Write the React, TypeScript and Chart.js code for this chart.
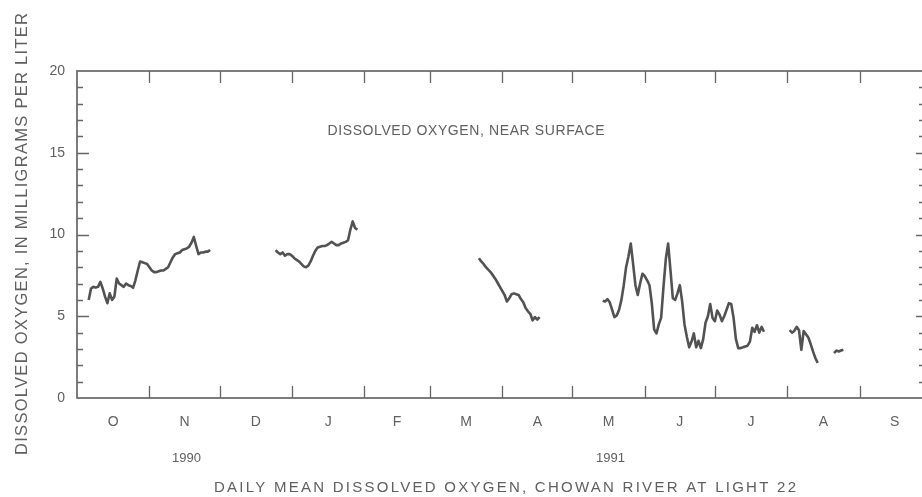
import React, { useEffect, useRef } from "react";
import { Chart, registerables } from "chart.js";

Chart.register(...registerables);

// Days counted from 1 October 1990 (day 0)
const MONTHS = ["O", "N", "D", "J", "F", "M", "A", "M", "J", "J", "A", "S"];
const MONTH_STARTS = [0, 31, 61, 92, 123, 151, 182, 212, 243, 273, 304, 335, 365];
const YEAR_LABELS = ["1990", "1991"];
const YEAR_MONTH_INDEX = [1, 7];
const Y_TICKS = [0, 5, 10, 15, 20];
const X_MAX = 362.5;

const Y_TITLE = "DISSOLVED OXYGEN, IN MILLIGRAMS PER LITER";
const INNER_LABEL = "DISSOLVED OXYGEN, NEAR SURFACE";
const BOTTOM_TITLE = "DAILY MEAN DISSOLVED OXYGEN, CHOWAN RIVER AT LIGHT 22";

const SEG1_START = 5;
const SEG1 = [
  6.0, 6.7, 6.8, 6.75, 6.8, 7.1, 6.7, 6.2, 5.8, 6.4, 6.0, 6.2, 7.3, 7.0, 6.9, 6.8,
  7.0, 6.9, 6.85, 6.75, 7.2, 7.8, 8.35, 8.3, 8.25, 8.2, 8.0, 7.8, 7.7, 7.7, 7.75,
  7.8, 7.8, 7.9, 8.0, 8.3, 8.6, 8.8, 8.85, 8.9, 9.05, 9.1, 9.15, 9.25, 9.5, 9.85,
  9.3, 8.8, 8.9, 8.9, 8.95, 8.95, 9.05,
];

const SEG2_START = 85;
const SEG2 = [
  9.05, 8.9, 8.8, 8.9, 8.7, 8.8, 8.8, 8.7, 8.55, 8.45, 8.35, 8.2, 8.05, 8.0, 8.1,
  8.35, 8.7, 9.0, 9.2, 9.25, 9.3, 9.3, 9.35, 9.45, 9.55, 9.45, 9.35, 9.35, 9.45,
  9.5, 9.55, 9.65, 10.3, 10.8, 10.4, 10.3,
];

const SEG3_START = 172;
const SEG3 = [
  8.55, 8.35, 8.2, 8.0, 7.85, 7.7, 7.5, 7.3, 7.05, 6.8, 6.55, 6.3, 5.9, 6.1, 6.35,
  6.4, 6.35, 6.3, 6.05, 5.85, 5.5, 5.3, 5.15, 4.75, 4.95, 4.8, 4.95,
];

const SEG4_START = 225;
const SEG4 = [
  5.95, 5.9, 6.05, 5.85, 5.4, 4.95, 5.05, 5.4, 6.0, 6.9, 8.0, 8.65, 9.45, 8.2, 6.9,
  6.3, 7.0, 7.6, 7.45, 7.2, 6.9, 5.8, 4.2, 3.95, 4.5, 4.9, 6.8, 8.5, 9.45, 7.8, 6.1,
  6.0, 6.4, 6.9, 5.9, 4.5, 3.75, 3.1, 3.45, 3.95, 3.1, 3.5, 3.05, 3.6, 4.6, 5.0,
  5.75, 4.9, 4.7, 5.35, 5.1, 4.7, 5.0, 5.4, 5.8, 5.75, 4.9, 3.6, 3.05, 3.05, 3.1,
  3.15, 3.2, 3.45, 4.3, 4.05, 4.45, 4.0, 4.35, 4.05,
];

const SEG5_START = 305;
const SEG5 = [4.15, 4.0, 4.1, 4.35, 4.15, 2.95, 4.1, 3.9, 3.7, 3.3, 2.85, 2.45, 2.15];

const SEG6_START = 324;
const SEG6 = [2.75, 2.9, 2.85, 2.9, 2.95];

const SEGMENTS: [number, number[]][] = [
  [SEG1_START, SEG1],
  [SEG2_START, SEG2],
  [SEG3_START, SEG3],
  [SEG4_START, SEG4],
  [SEG5_START, SEG5],
  [SEG6_START, SEG6],
];

const FONT = "'Liberation Sans', Arial, Helvetica, sans-serif";
const TEXT_COLOR = "#606060";
const AXIS_COLOR = "#666666";
const LINE_COLOR = "#525252";

function buildPoints() {
  const pts: { x: number; y: number | null }[] = [];
  SEGMENTS.forEach(([start, vals]) => {
    vals.forEach((v, i) => pts.push({ x: start + i, y: v }));
    pts.push({ x: start + vals.length, y: null });
  });
  return pts;
}

function spacedText(
  ctx: CanvasRenderingContext2D,
  text: string,
  size: number,
  width: number,
  cx: number,
  cy: number
) {
  ctx.font = `${size}px ${FONT}`;
  (ctx as any).letterSpacing = "0px";
  const w = ctx.measureText(text).width;
  const sp = Math.max(0, (width - w) / (text.length - 1));
  (ctx as any).letterSpacing = `${sp}px`;
  ctx.fillText(text, cx + sp / 2, cy);
  (ctx as any).letterSpacing = "0px";
}

const framePlugin = {
  id: "frame",
  afterDraw(chart: any) {
    const { ctx, chartArea: a, scales } = chart;
    const xs = scales.x;
    const ys = scales.y;
    ctx.save();
    ctx.strokeStyle = AXIS_COLOR;
    ctx.lineWidth = 1.7;
    ctx.strokeRect(a.left, a.top, a.right - a.left, a.bottom - a.top);

    ctx.lineWidth = 1.3;
    ctx.beginPath();
    MONTH_STARTS.forEach((d) => {
      if (d <= xs.min || d >= xs.max) return;
      const px = Math.round(xs.getPixelForValue(d)) + 0.5;
      ctx.moveTo(px, a.top);
      ctx.lineTo(px, a.top + 12);
      ctx.moveTo(px, a.bottom);
      ctx.lineTo(px, a.bottom - 12);
    });
    for (let v = 1; v < 20; v++) {
      const py = Math.round(ys.getPixelForValue(v)) + 0.5;
      const major = v % 5 === 0;
      ctx.moveTo(a.left, py);
      ctx.lineTo(a.left + (major ? 12 : 6), py);
      ctx.moveTo(a.right, py);
      ctx.lineTo(a.right - (major ? 8 : 5), py);
    }
    ctx.stroke();

    ctx.fillStyle = TEXT_COLOR;
    ctx.textAlign = "center";
    ctx.textBaseline = "middle";

    // Year labels
    ctx.font = `13px ${FONT}`;
    YEAR_LABELS.forEach((lab, i) => {
      const m = YEAR_MONTH_INDEX[i];
      const mid = (MONTH_STARTS[m] + MONTH_STARTS[m + 1]) / 2;
      ctx.fillText(lab, xs.getPixelForValue(mid) + 2, 458);
    });

    // Inner label
    spacedText(ctx, INNER_LABEL, 14, 277, 466, 131);

    // Bottom title
    spacedText(ctx, BOTTOM_TITLE, 15, 582, 505, 488);

    // Y title
    ctx.translate(22, 234);
    ctx.rotate(-Math.PI / 2);
    spacedText(ctx, Y_TITLE, 16.5, 442, 0, 0);
    ctx.restore();
  },
};

export default function App() {
  const ref = useRef<HTMLCanvasElement | null>(null);

  useEffect(() => {
    if (!ref.current) return;
    const mids = MONTHS.map((_, i) => (MONTH_STARTS[i] + MONTH_STARTS[i + 1]) / 2);
    const chart = new Chart(ref.current, {
      type: "line",
      data: {
        datasets: [
          {
            data: buildPoints() as any,
            borderColor: LINE_COLOR,
            borderWidth: 2.6,
            pointRadius: 0,
            tension: 0,
            spanGaps: false,
            borderJoinStyle: "round",
          },
        ],
      },
      options: {
        animation: false,
        responsive: false,
        maintainAspectRatio: false,
        layout: { padding: { left: 0, right: 2, top: 71, bottom: 0 } },
        plugins: { legend: { display: false }, tooltip: { enabled: false } },
        scales: {
          x: {
            type: "linear",
            min: 0,
            max: X_MAX,
            grid: { display: false, drawTicks: false },
            border: { display: false },
            afterBuildTicks: (s: any) => {
              s.ticks = mids.map((v) => ({ value: v }));
            },
            ticks: {
              autoSkip: false,
              maxRotation: 0,
              padding: 16,
              color: TEXT_COLOR,
              font: { size: 14, family: FONT },
              callback: (_v: any, i: number) => MONTHS[i],
            },
            afterFit: (s: any) => {
              s.height = 99;
            },
          },
          y: {
            min: 0,
            max: 20,
            grid: { display: false, drawTicks: false },
            border: { display: false },
            afterBuildTicks: (s: any) => {
              s.ticks = Y_TICKS.map((v) => ({ value: v }));
            },
            ticks: {
              padding: 12,
              color: TEXT_COLOR,
              font: { size: 14, family: FONT },
            },
            afterFit: (s: any) => {
              s.width = 77;
            },
          },
        },
      },
      plugins: [framePlugin],
    });
    return () => chart.destroy();
  }, []);

  return (
    <div
      style={{
        position: "fixed",
        left: 0,
        top: 0,
        width: 922,
        height: 497,
        overflow: "hidden",
        background: "#ffffff",
      }}
    >
      <canvas ref={ref} width={926} height={497} style={{ display: "block", width: 926, height: 497 }} />
    </div>
  );
}
